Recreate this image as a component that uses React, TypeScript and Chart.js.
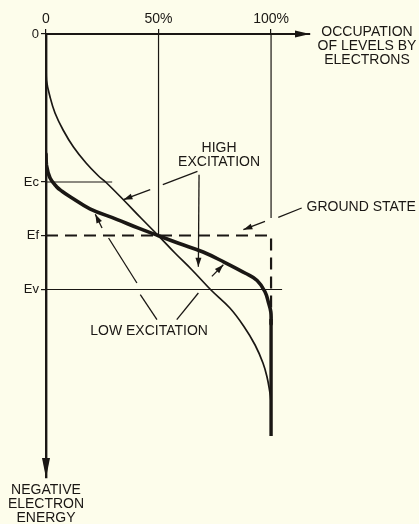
import React, { useEffect, useRef } from "react";
import { Chart, registerables } from "chart.js";

Chart.register(...registerables);

// ---- axis ticks ----
const occupationTicks = [0, 50, 100];
const occupationTickLabels = ["0", "50%", "100%"];
const energyTicks = [0, 14.8, 20.15, 25.55];
const energyTickLabels = ["0", "Ec", "Ef", "Ev"];

// ---- curves (occupation %, negative energy in arbitrary units, 0 at top) ----
const highExcitationOccupation = [0, 0.2, 1.8, 4.0, 7.6, 12.2, 17.8, 23.1, 26.7, 34.7, 42.2, 50, 57.3, 64.9, 73.3, 81.7, 87.8, 92.9, 96.4, 98.2, 99.3, 99.9, 100];
const highExcitationEnergy = [3.0, 4.6, 6.3, 7.9, 9.6, 11.3, 12.9, 14.15, 14.85, 16.65, 18.4, 20.18, 21.9, 23.6, 25.6, 27.4, 29.2, 31.1, 32.9, 34.3, 35.6, 36.6, 38.0];

const lowExcitationOccupation = [0, 0.2, 1.8, 4.7, 7.1, 10.7, 19.5, 31.4, 41.1, 50, 58.9, 69.8, 79.3, 88.6, 93.8, 97.3, 98.9, 99.9, 100];
const lowExcitationEnergy = [12.0, 13.1, 14.4, 15.27, 15.72, 16.27, 17.48, 18.53, 19.42, 20.18, 20.93, 21.8, 22.83, 23.93, 24.65, 25.77, 26.9, 27.8, 29.0];

// fully occupied tail below the curves
const fullTailEnergy = [28.5, 40.2];

const groundStateOccupation = [0, 100, 100];
const groundStateEnergy = [20.15, 20.15, 27.8];

// reference lines
const halfLineEnergy = [0, 20.15];
const fullLineEnergy = [0, 18.4];
const ecLineOccupation = [0, 29.4];
const evLineOccupation = [0, 104.9];

// ---- annotation leaders [x1, y1, x2, y2, arrowhead] ----
const highExcitationLeaders: [number, number, number, number, boolean][] = [
  [67.3, 13.74, 51.9, 15.07, false],
  [46.3, 15.57, 34.4, 16.57, true],
  [68.0, 14.07, 67.7, 23.27, true],
];
const groundStateLeaders: [number, number, number, number, boolean][] = [
  [113.6, 17.4, 103.2, 18.34, false],
  [97.3, 18.74, 87.7, 19.57, true],
];
const lowExcitationLeaders: [number, number, number, number, boolean][] = [
  [49.3, 28.57, 41.9, 26.07, false],
  [40.4, 24.9, 27.8, 20.4, false],
  [24.9, 19.4, 21.9, 18.02, true],
  [58.1, 28.57, 67.7, 25.9, false],
  [73.7, 24.24, 78.8, 23.07, true],
];

const highLabelLines = ["HIGH", "EXCITATION"];
const highLabelPos = [76.9, 11.43, 12.8];
const groundLabel = "GROUND STATE";
const groundLabelPos = [115.8, 17.33];
const lowLabel = "LOW EXCITATION";
const lowLabelPos = [45.8, 29.7];

const xTitleLines = ["OCCUPATION", "OF LEVELS BY", "ELECTRONS"];
const yTitleLines = ["NEGATIVE", "ELECTRON", "ENERGY"];

const INK = "#1a1714";
const BG = "#fdfdeb";
const FONT = "'Liberation Sans', Arial, sans-serif";

const zip = (xs: number[], ys: number[]) => xs.map((v, i) => ({ x: v, y: ys[i] }));

function arrowHead(ctx: CanvasRenderingContext2D, x1: number, y1: number, x2: number, y2: number, len: number, half: number) {
  const a = Math.atan2(y2 - y1, x2 - x1);
  ctx.beginPath();
  ctx.moveTo(x2, y2);
  ctx.lineTo(x2 - len * Math.cos(a) + half * Math.sin(a), y2 - len * Math.sin(a) - half * Math.cos(a));
  ctx.lineTo(x2 - len * Math.cos(a) - half * Math.sin(a), y2 - len * Math.sin(a) + half * Math.cos(a));
  ctx.closePath();
  ctx.fill();
}

const annotatePlugin = {
  id: "annotate",
  afterDraw(chart: any) {
    const { ctx, scales, chartArea } = chart;
    const xs = scales.x;
    const ys = scales.y;
    ctx.save();
    ctx.strokeStyle = INK;
    ctx.fillStyle = INK;
    ctx.lineWidth = 1.3;
    ctx.lineCap = "butt";
    const all = [...highExcitationLeaders, ...groundStateLeaders, ...lowExcitationLeaders];
    for (const [a, b, c, d, head] of all) {
      const x1 = xs.getPixelForValue(a);
      const y1 = ys.getPixelForValue(b);
      const x2 = xs.getPixelForValue(c);
      const y2 = ys.getPixelForValue(d);
      ctx.beginPath();
      ctx.moveTo(x1, y1);
      ctx.lineTo(x2, y2);
      ctx.stroke();
      if (head) arrowHead(ctx, x1, y1, x2, y2, 9, 3);
    }
    // axis arrows
    arrowHead(ctx, chartArea.left, chartArea.top, chartArea.right, chartArea.top, 15, 3.5);
    arrowHead(ctx, chartArea.left, chartArea.top, chartArea.left, chartArea.bottom, 20, 4);

    ctx.font = `14px ${FONT}`;
    ctx.textAlign = "center";
    ctx.textBaseline = "middle";
    ctx.fillText(highLabelLines[0], xs.getPixelForValue(highLabelPos[0]), ys.getPixelForValue(highLabelPos[1]));
    ctx.fillText(highLabelLines[1], xs.getPixelForValue(highLabelPos[0]), ys.getPixelForValue(highLabelPos[2]));
    ctx.fillText(lowLabel, xs.getPixelForValue(lowLabelPos[0]), ys.getPixelForValue(lowLabelPos[1]));
    ctx.textAlign = "left";
    ctx.fillText(groundLabel, xs.getPixelForValue(groundLabelPos[0]), ys.getPixelForValue(groundLabelPos[1]));

    // axis titles
    ctx.textAlign = "center";
    const tx = chartArea.right + 57;
    xTitleLines.forEach((t, i) => ctx.fillText(t, tx, chartArea.top - 2 + i * 14));
    yTitleLines.forEach((t, i) => ctx.fillText(t, chartArea.left, chartArea.bottom + 12 + i * 14));
    ctx.restore();
  },
};

export default function App() {
  const ref = useRef<HTMLCanvasElement | null>(null);
  useEffect(() => {
    if (!ref.current) return;
    const curve = (occ: number[], en: number[], w: number) => ({
      data: zip(occ, en),
      borderColor: INK,
      borderWidth: w,
      pointRadius: 0,
      fill: false,
      tension: 0.4,
      borderCapStyle: "round",
      borderJoinStyle: "round",
    });
    const straight = (data: { x: number; y: number }[], w: number, dash: number[] = []) => ({
      data,
      borderColor: INK,
      borderWidth: w,
      borderDash: dash,
      pointRadius: 0,
      fill: false,
      tension: 0,
    });
    const chart = new Chart(ref.current, {
      type: "line",
      data: {
        datasets: [
          straight(halfLineEnergy.map((e) => ({ x: 50, y: e })), 1.2),
          straight(fullLineEnergy.map((e) => ({ x: 100, y: e })), 1.2),
          straight(ecLineOccupation.map((o) => ({ x: o, y: energyTicks[1] })), 1.2),
          straight(evLineOccupation.map((o) => ({ x: o, y: energyTicks[3] })), 1.2),
          straight(zip(groundStateOccupation, groundStateEnergy), 2.2, [12, 7]),
          curve(highExcitationOccupation, highExcitationEnergy, 1.7),
          curve(lowExcitationOccupation, lowExcitationEnergy, 3.6),
          straight(fullTailEnergy.map((e) => ({ x: 100, y: e })), 3.4),
        ] as any,
      },
      options: {
        animation: false,
        responsive: false,
        devicePixelRatio: 1,
        layout: { padding: { left: 0, top: 0, right: 109, bottom: 46 } },
        plugins: { legend: { display: false }, tooltip: { enabled: false } },
        scales: {
          x: {
            type: "linear",
            position: "top",
            min: 0,
            max: 117.3,
            afterBuildTicks: (s: any) => {
              s.ticks = occupationTicks.map((v) => ({ value: v }));
            },
            afterFit: (s: any) => {
              s.height = 34;
            },
            ticks: {
              callback: (v: any) => occupationTickLabels[occupationTicks.indexOf(Number(v))] ?? "",
              font: { family: FONT, size: 14 },
              color: INK,
              padding: 1,
              maxRotation: 0,
              autoSkip: false,
            },
            grid: { drawOnChartArea: false, drawTicks: true, tickLength: 5, color: INK, lineWidth: 1.2 },
            border: { display: true, color: INK, width: 2 },
          },
          y: {
            type: "linear",
            position: "left",
            reverse: true,
            min: 0,
            max: 44.4,
            afterBuildTicks: (s: any) => {
              s.ticks = energyTicks.map((v) => ({ value: v }));
            },
            afterFit: (s: any) => {
              s.width = 46;
            },
            ticks: {
              callback: (v: any) => energyTickLabels[energyTicks.indexOf(Number(v))] ?? "",
              font: { family: FONT, size: 13 },
              color: INK,
              padding: 2,
              autoSkip: false,
            },
            grid: { drawOnChartArea: false, drawTicks: true, tickLength: 5, color: INK, lineWidth: 1.2 },
            border: { display: true, color: INK, width: 2.4 },
          },
        },
      } as any,
      plugins: [annotatePlugin],
    });
    return () => chart.destroy();
  }, []);
  return (
    <div style={{ position: "absolute", left: 0, top: 0, width: 419, height: 524, background: BG }}>
      <canvas ref={ref} width={419} height={524} style={{ display: "block", width: 419, height: 524 }} />
    </div>
  );
}
